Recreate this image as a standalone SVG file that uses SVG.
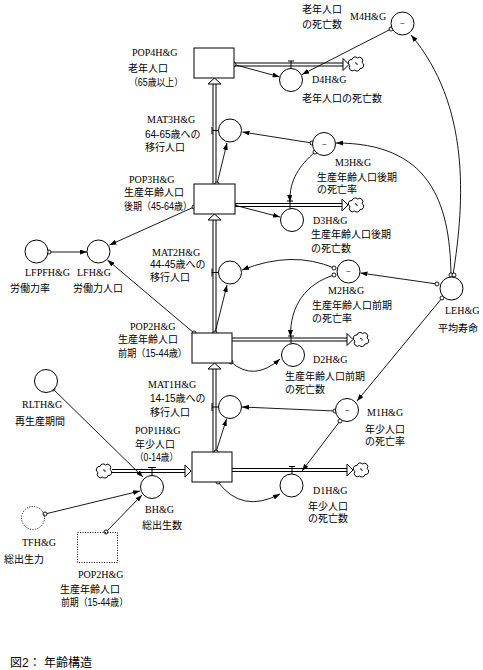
<svg xmlns="http://www.w3.org/2000/svg" width="483" height="670" viewBox="0 0 483 670">
<style>
.lab{font-family:"Liberation Serif","Noto Sans CJK JP",serif;font-size:10px;fill:#000}
.jp{font-family:"Liberation Sans","Noto Sans CJK JP",sans-serif;font-size:10px;fill:#000}
.cap{font-family:"Liberation Sans","Noto Sans CJK JP",sans-serif;font-size:12px;fill:#000}
.tl{font-family:"Liberation Sans",sans-serif;font-size:8px;fill:#000}
.stock{fill:#fff;stroke:#000;stroke-width:1}
.aux{fill:#fff;stroke:#000;stroke-width:1}
.dot{fill:none;stroke:#000;stroke-width:1;stroke-dasharray:1 1.5}
.pipe{fill:none;stroke:#000;stroke-width:1}
.tri{fill:#fff;stroke:#000;stroke-width:1}
.link{fill:none;stroke:#000;stroke-width:0.9;marker-end:url(#ah)}
.src{fill:#fff;stroke:#000;stroke-width:0.9}
.valve{fill:none;stroke:#000;stroke-width:1}
.cloud{fill:#fff;stroke:#000;stroke-width:1}
</style>
<defs>
<marker id="ah" viewBox="0 0 7 5" refX="7" refY="2.5" markerWidth="7" markerHeight="5" orient="auto" markerUnits="userSpaceOnUse"><path d="M0,0 L7,2.5 L0,5 z" fill="#000"/></marker>
<path id="cl" class="cloud" d="M-4,-4.5 A3.2,3.2 0 0 1 1.5,-6 A3.2,3.2 0 0 1 6,-1.5 A3.2,3.2 0 0 1 4,4.5 A3.2,3.2 0 0 1 -1.5,6 A3.2,3.2 0 0 1 -6,1.5 A3.2,3.2 0 0 1 -4,-4.5 Z M-1,-1 A1.5,1.5 0 0 1 1,1"/>
</defs>
<rect width="483" height="670" fill="#fff"/>

<g id="connectors">
  <g id="flows">
    <path class="pipe" d="M234,63 H343 M234,66 H343"/>
    <path class="tri" d="M343,58.5 L349,64.5 L343,70.5 Z"/>
    <path class="pipe" d="M235,203.5 H342 M235,206.5 H342"/>
    <path class="tri" d="M342,199 L348,205 L342,211 Z"/>
    <path class="pipe" d="M232,338 H347 M232,341 H347"/>
    <path class="tri" d="M347,333.5 L353,339.5 L347,345.5 Z"/>
    <path class="pipe" d="M232,468.5 H347 M232,471.5 H347"/>
    <path class="tri" d="M347,464 L353,470 L347,476 Z"/>
    <path class="pipe" d="M112,469.5 H185 M112,472.5 H185"/>
    <path class="tri" d="M185,465 L191,471 L185,477 Z"/>
    <path class="pipe" d="M213,452 V369 M216,452 V369"/>
    <path class="tri" d="M208,369 L214.5,363 L221,369 Z"/>
    <path class="pipe" d="M213,333 V220 M216,333 V220"/>
    <path class="tri" d="M208,220 L214.5,214 L221,220 Z"/>
    <path class="pipe" d="M213,184 V84 M216,184 V84"/>
    <path class="tri" d="M208,84 L214.5,78 L221,84 Z"/>
    <use href="#cl" x="356" y="64"/>
    <use href="#cl" x="356" y="205"/>
    <use href="#cl" x="361" y="339.5"/>
    <use href="#cl" x="361" y="470"/>
    <use href="#cl" x="104" y="471"/>
  </g>
  <g id="links">
    <path class="link" d="M234,64.5 L279.5,76.8"/>
    <path class="link" d="M391,29 L302,74.5"/>
    <path class="link" d="M453,275 C465,200 470,105 411,35"/>
    <path class="link" d="M451,275 C450,200 428,143 336,143"/>
    <path class="link" d="M437,284 L360.5,273"/>
    <path class="link" d="M442,298 L357,401"/>
    <path class="link" d="M335,411 L242,407"/>
    <path class="link" d="M340,421 L302,471"/>
    <path class="link" d="M218,482 Q242,514 280,494"/>
    <path class="link" d="M216,452 L226.5,419"/>
    <path class="link" d="M334,268 Q292,250 242,270"/>
    <path class="link" d="M334,275 C306,284 290,305 290.5,337"/>
    <path class="link" d="M231,362 Q254,382 280,359"/>
    <path class="link" d="M215,333 L227,285"/>
    <path class="link" d="M194,333 L107.5,260"/>
    <path class="link" d="M194,207 L109.5,245"/>
    <path class="link" d="M49,252 L87,252"/>
    <path class="link" d="M217,184 L227,143"/>
    <path class="link" d="M312,143 L242.5,132"/>
    <path class="link" d="M315,152 C300,165 289,180 290,202"/>
    <path class="link" d="M234,205 L280,217"/>
    <path class="link" d="M53,389 L143,477"/>
    <path class="link" d="M45,514 L140,491"/>
    <path class="link" d="M106,532 L142,495"/>
    <circle class="src" cx="234" cy="64.5" r="2"/>
    <circle class="src" cx="391" cy="29" r="2"/>
    <circle class="src" cx="451" cy="275" r="2"/>
    <circle class="src" cx="454" cy="275" r="2"/>
    <circle class="src" cx="437" cy="284" r="2"/>
    <circle class="src" cx="442" cy="298" r="2"/>
    <circle class="src" cx="335" cy="411" r="2"/>
    <circle class="src" cx="340" cy="421" r="2"/>
    <circle class="src" cx="218" cy="482" r="2"/>
    <circle class="src" cx="216" cy="452" r="2"/>
    <circle class="src" cx="334" cy="268" r="2"/>
    <circle class="src" cx="334" cy="275" r="2"/>
    <circle class="src" cx="231" cy="362" r="2"/>
    <circle class="src" cx="215" cy="333" r="2"/>
    <circle class="src" cx="194" cy="333" r="2"/>
    <circle class="src" cx="194" cy="207" r="2"/>
    <circle class="src" cx="49" cy="252" r="2"/>
    <circle class="src" cx="217" cy="184" r="2"/>
    <circle class="src" cx="312" cy="143" r="2"/>
    <circle class="src" cx="315" cy="152" r="2"/>
    <circle class="src" cx="234" cy="205" r="2"/>
    <circle class="src" cx="53" cy="389" r="2"/>
    <circle class="src" cx="45" cy="514" r="2"/>
    <circle class="src" cx="106" cy="532" r="2"/>
  </g>
</g>

<g id="POP4">
  <rect class="stock" x="194" y="48" width="40" height="30"/>
  <text class="lab" x="132" y="56">POP4H&amp;G</text>
  <text class="jp" x="128" y="72">老年人口</text>
  <text class="jp" x="129" y="86" textLength="54" lengthAdjust="spacingAndGlyphs">（65歳以上）</text>
</g>
<g id="D4">
  <circle class="aux" cx="291" cy="80" r="11.5"/>
  <path class="valve" d="M288,61 H294 M291,61 V68.5"/>
  <text class="lab" x="312" y="83">D4H&amp;G</text>
  <text class="jp" x="302" y="102">老年人口の死亡数</text>
</g>
<g id="M4">
  <circle class="aux" cx="402.5" cy="23.5" r="11.5"/>
  <text class="tl" x="400" y="26">~</text>
  <text class="jp" x="302" y="13">老年人口</text>
  <text class="jp" x="302" y="28">の死亡数</text>
  <text class="lab" x="350" y="20">M4H&amp;G</text>
</g>

<g id="MAT3">
  <circle class="aux" cx="230" cy="130.5" r="11.5"/>
  <path class="valve" d="M212,127 V134 M212,130.5 H218.5"/>
  <text class="lab" x="147" y="123">MAT3H&amp;G</text>
  <text class="jp" x="145" y="138">64-65歳への</text>
  <text class="jp" x="145" y="151">移行人口</text>
</g>
<g id="M3">
  <circle class="aux" cx="324" cy="144" r="11.5"/>
  <text class="tl" x="322" y="147">~</text>
  <text class="lab" x="335" y="166">M3H&amp;G</text>
  <text class="jp" x="317" y="181">生産年齢人口後期</text>
  <text class="jp" x="317" y="193">の死亡率</text>
</g>
<g id="POP3">
  <rect class="stock" x="194" y="184" width="41" height="30"/>
  <text class="lab" x="129" y="183">POP3H&amp;G</text>
  <text class="jp" x="124" y="196">生産年齢人口</text>
  <text class="jp" x="124" y="210" textLength="68" lengthAdjust="spacingAndGlyphs">後期（45-64歳）</text>
</g>
<g id="D3">
  <circle class="aux" cx="292" cy="220" r="11.5"/>
  <path class="valve" d="M287,201 H293 M290,201 V208.5"/>
  <text class="lab" x="313" y="224">D3H&amp;G</text>
  <text class="jp" x="311" y="238">生産年齢人口後期</text>
  <text class="jp" x="311" y="252">の死亡数</text>
</g>
<g id="LFPF">
  <circle class="aux" cx="36.5" cy="251.5" r="11.5"/>
  <text class="lab" x="25" y="276">LFPFH&amp;G</text>
  <text class="jp" x="10" y="292">労働力率</text>
</g>
<g id="LFH">
  <circle class="aux" cx="98.5" cy="251.5" r="11.5"/>
  <text class="lab" x="77" y="276">LFH&amp;G</text>
  <text class="jp" x="73" y="292">労働力人口</text>
</g>
<g id="MAT2">
  <circle class="aux" cx="230" cy="272.5" r="11.5"/>
  <path class="valve" d="M212,268.5 V276.5 M212,272.5 H218.5"/>
  <text class="lab" x="152" y="256">MAT2H&amp;G</text>
  <text class="jp" x="150" y="268">44-45歳への</text>
  <text class="jp" x="150" y="281">移行人口</text>
</g>
<g id="M2">
  <circle class="aux" cx="348.5" cy="271.5" r="11.5"/>
  <text class="tl" x="346" y="274">~</text>
  <text class="lab" x="328" y="294">M2H&amp;G</text>
  <text class="jp" x="312" y="309">生産年齢人口前期</text>
  <text class="jp" x="312" y="322">の死亡率</text>
</g>
<g id="LEH">
  <circle class="aux" cx="451.5" cy="288.5" r="11.5"/>
  <text class="lab" x="445" y="314">LEH&amp;G</text>
  <text class="jp" x="438" y="332">平均寿命</text>
</g>
<g id="POP2">
  <rect class="stock" x="192" y="333" width="40" height="30"/>
  <text class="lab" x="130" y="330">POP2H&amp;G</text>
  <text class="jp" x="118" y="343">生産年齢人口</text>
  <text class="jp" x="118" y="357" textLength="69" lengthAdjust="spacingAndGlyphs">前期（15-44歳）</text>
</g>
<g id="D2">
  <circle class="aux" cx="293" cy="355" r="11.5"/>
  <path class="valve" d="M288,336 H294 M291,336 V343.5"/>
  <text class="lab" x="313" y="363">D2H&amp;G</text>
  <text class="jp" x="285" y="380">生産年齢人口前期</text>
  <text class="jp" x="285" y="393">の死亡数</text>
</g>
<g id="MAT1">
  <circle class="aux" cx="230" cy="407" r="11.5"/>
  <path class="valve" d="M212,403 V411 M212,407 H218.5"/>
  <text class="lab" x="148" y="388">MAT1H&amp;G</text>
  <text class="jp" x="150" y="402">14-15歳への</text>
  <text class="jp" x="150" y="416">移行人口</text>
</g>
<g id="M1">
  <circle class="aux" cx="347" cy="410" r="11.5"/>
  <text class="tl" x="345" y="413">~</text>
  <text class="lab" x="367" y="416">M1H&amp;G</text>
  <text class="jp" x="365" y="433">年少人口</text>
  <text class="jp" x="365" y="445">の死亡率</text>
</g>
<g id="RLTH">
  <circle class="aux" cx="46" cy="381" r="11.5"/>
  <text class="lab" x="22" y="408">RLTH&amp;G</text>
  <text class="jp" x="15" y="425">再生産期間</text>
</g>
<g id="POP1">
  <rect class="stock" x="192" y="452" width="40" height="30"/>
  <text class="lab" x="135" y="434">POP1H&amp;G</text>
  <text class="jp" x="135" y="448">年少人口</text>
  <text class="jp" x="135" y="461" textLength="43" lengthAdjust="spacingAndGlyphs">（0-14歳）</text>
</g>
<g id="D1">
  <circle class="aux" cx="291.5" cy="485.5" r="11.5"/>
  <path class="valve" d="M289,466.5 H295 M292,466.5 V474"/>
  <text class="lab" x="313" y="494">D1H&amp;G</text>
  <text class="jp" x="308" y="510">年少人口</text>
  <text class="jp" x="308" y="522">の死亡数</text>
</g>
<g id="BH">
  <circle class="aux" cx="152" cy="487" r="11.5"/>
  <path class="valve" d="M148,467.5 H156 M152,467.5 V475.5"/>
  <text class="lab" x="145" y="513">BH&amp;G</text>
  <text class="jp" x="142" y="529">総出生数</text>
</g>
<g id="TFH">
  <circle class="dot" cx="33" cy="518" r="11.5"/>
  <text class="lab" x="22" y="546">TFH&amp;G</text>
  <text class="jp" x="4" y="563">総出生力</text>
</g>
<g id="POP2ghost">
  <rect class="dot" x="77.5" y="532.5" width="40" height="30"/>
  <text class="lab" x="78" y="578">POP2H&amp;G</text>
  <text class="jp" x="60" y="593">生産年齢人口</text>
  <text class="jp" x="61" y="606" textLength="67" lengthAdjust="spacingAndGlyphs">前期（15-44歳）</text>
</g>
<g id="caption">
  <text class="cap" x="10" y="667">図2： 年齢構造</text>
</g>
</svg>
